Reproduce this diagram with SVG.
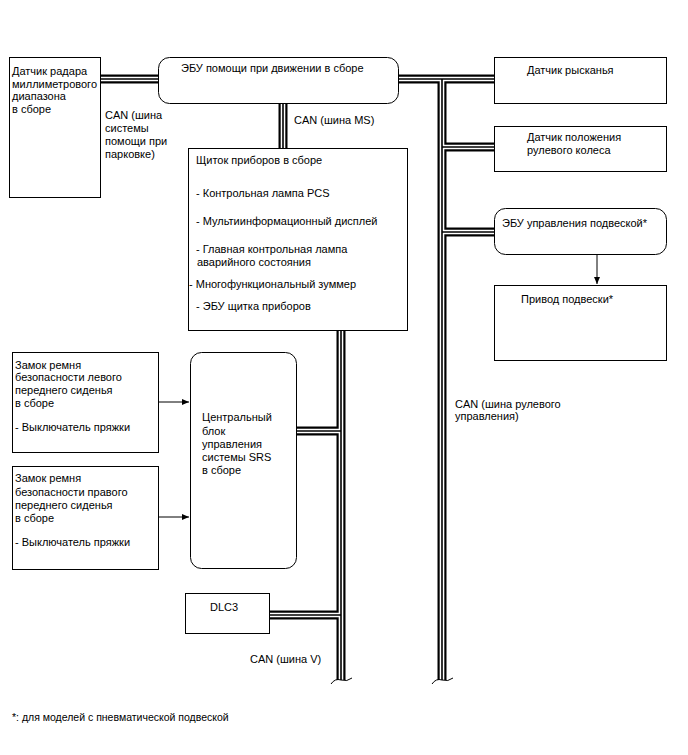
<svg xmlns="http://www.w3.org/2000/svg" width="688" height="755" viewBox="0 0 688 755">
<defs>
<style>
.t{font-family:"Liberation Sans",Arial,sans-serif;font-size:11px;fill:#000}
.box{fill:#fff;stroke:#000;stroke-width:1}
.busB{fill:none;stroke:#000;stroke-width:9}
.busW{fill:none;stroke:#fff;stroke-width:4.6}
.busC{fill:none;stroke:#000;stroke-width:1.6}
.ln{fill:none;stroke:#000;stroke-width:1}
</style>
<marker id="ah" markerWidth="8" markerHeight="8" refX="7" refY="4" orient="auto" markerUnits="userSpaceOnUse">
<path d="M0,1 L7,4 L0,7 Z" fill="#000"/>
</marker>
</defs>
<rect width="688" height="755" fill="#fff"/>
<g id="connectors">
<g class="busB">
<path d="M100,79 H158"/>
<path d="M398,79 H494"/>
<path d="M442,79 V680"/>
<path d="M442,147 H494"/>
<path d="M442,232 H494"/>
<path d="M283,103 V148"/>
<path d="M341,330 V680"/>
<path d="M296,431 H341"/>
<path d="M269,615 H341"/>
</g>
<g class="busW">
<path d="M100,79 H158"/>
<path d="M398,79 H494"/>
<path d="M442,79 V680"/>
<path d="M442,147 H494"/>
<path d="M442,232 H494"/>
<path d="M283,103 V148"/>
<path d="M341,330 V680"/>
<path d="M296,431 H341"/>
<path d="M269,615 H341"/>
</g>
<g class="busC">
<path d="M100,79 H158"/>
<path d="M398,79 H494"/>
<path d="M442,79 V680"/>
<path d="M442,147 H494"/>
<path d="M442,232 H494"/>
<path d="M283,103 V148"/>
<path d="M341,330 V680"/>
<path d="M296,431 H341"/>
<path d="M269,615 H341"/>
</g>
<path class="ln" d="M331,684 Q335,678 341,680 Q347,682 352,678"/>
<path class="ln" d="M432,684 Q436,678 442,680 Q448,682 453,678"/>
<path class="ln" d="M597,254 V284" marker-end="url(#ah)"/>
<path class="ln" d="M158,402 H189" marker-end="url(#ah)"/>
<path class="ln" d="M158,517 H189" marker-end="url(#ah)"/>
<text class="t" x="105" y="119">CAN (шина<tspan x="105" y="132">системы</tspan><tspan x="105" y="145">помощи при</tspan><tspan x="105" y="158">парковке)</tspan></text>
<text class="t" x="294" y="124">CAN (шина MS)</text>
<text class="t" x="455" y="408">CAN (шина рулевого<tspan x="455" y="420">управления)</tspan></text>
<text class="t" x="250" y="663">CAN (шина V)</text>
</g>
<g id="radar">
<rect class="box" x="9.5" y="57.5" width="91" height="140"/>
<text class="t" x="12" y="75">Датчик радара<tspan x="12" y="88">миллиметрового</tspan><tspan x="12" y="100">диапазона</tspan><tspan x="12" y="113">в сборе</tspan></text>
</g>
<g id="ecu-drive">
<rect class="box" x="158.5" y="57.5" width="240" height="46" rx="11"/>
<text class="t" x="181" y="72">ЭБУ помощи при движении в сборе</text>
</g>
<g id="yaw">
<rect class="box" x="494.5" y="57.5" width="172" height="46"/>
<text class="t" x="527" y="74">Датчик рысканья</text>
</g>
<g id="steer">
<rect class="box" x="494.5" y="126.5" width="172" height="45"/>
<text class="t" x="527" y="141">Датчик положения<tspan x="527" y="154">рулевого колеса</tspan></text>
</g>
<g id="ecu-susp">
<rect class="box" x="494.5" y="208.5" width="172" height="46" rx="11"/>
<text class="t" x="502" y="227">ЭБУ управления подвеской*</text>
</g>
<g id="susp-act">
<rect class="box" x="494.5" y="285.5" width="172" height="75"/>
<text class="t" x="521" y="303">Привод подвески*</text>
</g>
<g id="meter">
<rect class="box" x="188.5" y="148.5" width="219" height="182"/>
<text class="t" x="196" y="164">Щиток приборов в сборе</text>
<text class="t" x="196" y="197">- Контрольная лампа PCS</text>
<text class="t" x="196" y="225">- Мультиинформационный дисплей</text>
<text class="t" x="196" y="253">- Главная контрольная лампа<tspan x="197" y="266">аварийного состояния</tspan></text>
<text class="t" x="189" y="288">- Многофункциональный зуммер</text>
<text class="t" x="196" y="310">- ЭБУ щитка приборов</text>
</g>
<g id="buckle-left">
<rect class="box" x="12.5" y="352.5" width="146" height="100"/>
<text class="t" x="15" y="369">Замок ремня<tspan x="15" y="381">безопасности левого</tspan><tspan x="15" y="394">переднего сиденья</tspan><tspan x="15" y="407">в сборе</tspan><tspan x="15" y="431">- Выключатель пряжки</tspan></text>
</g>
<g id="buckle-right">
<rect class="box" x="12.5" y="466.5" width="146" height="103"/>
<text class="t" x="15" y="482">Замок ремня<tspan x="15" y="496">безопасности правого</tspan><tspan x="15" y="509">переднего сиденья</tspan><tspan x="15" y="522">в сборе</tspan><tspan x="15" y="546">- Выключатель пряжки</tspan></text>
</g>
<g id="srs">
<rect class="box" x="190.5" y="352.5" width="106" height="216" rx="11"/>
<text class="t" x="202" y="421">Центральный<tspan x="202" y="435">блок</tspan><tspan x="202" y="448">управления</tspan><tspan x="202" y="461">системы SRS</tspan><tspan x="202" y="474">в сборе</tspan></text>
</g>
<g id="dlc3">
<rect class="box" x="185.5" y="593.5" width="84" height="40"/>
<text class="t" x="210" y="611">DLC3</text>
</g>
<text class="t" x="12" y="721" style="font-size:10.5px">*: для моделей с пневматической подвеской</text>
</svg>
